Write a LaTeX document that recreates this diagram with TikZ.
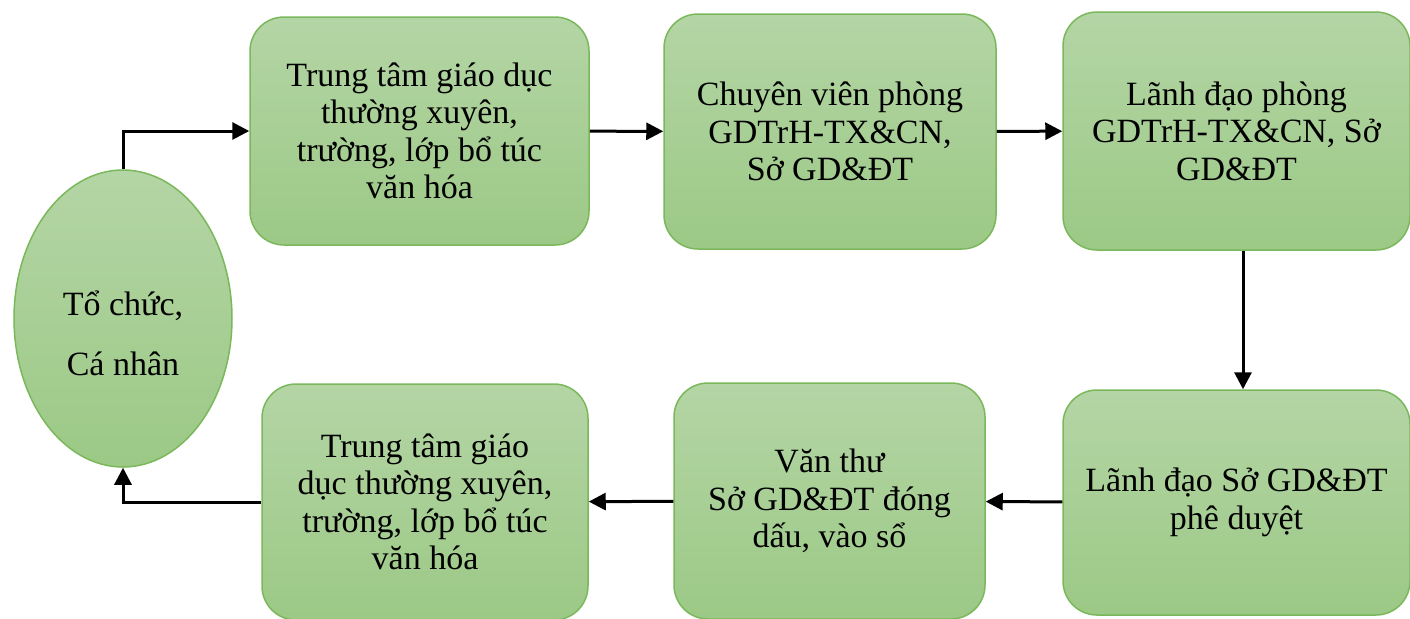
\documentclass[tikz,border=0pt]{standalone}
\usepackage{fontspec}
\setmainfont{Liberation Serif}
\usetikzlibrary{arrows.meta,shapes.geometric}
\definecolor{boxtop}{HTML}{B4D5A5}
\definecolor{boxbot}{HTML}{9CC986}
\definecolor{boxline}{HTML}{7AB85B}
\tikzset{
  stepbox/.style={draw=boxline,line width=0.75pt,rounded corners=17pt,
    top color=boxtop,bottom color=boxbot,align=center,
    font=\fontsize{17}{18.7}\selectfont,inner sep=0pt},
  link/.style={line width=1.5pt,-{Triangle[length=8.5pt,width=8.5pt]}}
}
\begin{document}
\begin{tikzpicture}[x=0.5pt,y=-0.5pt]
\useasboundingbox (0,0) rectangle (1410,618);
% nguoi nop ho so
\node[ellipse,draw=boxline,line width=0.75pt,top color=boxtop,bottom color=boxbot,
  minimum width=109pt,minimum height=148.5pt,inner sep=0pt,
  font=\fontsize{17}{30}\selectfont] (tc) at (123,318.5)
  {\raisebox{-7.5pt}[\height][\depth]{\begin{tabular}{@{}c@{}}Tổ chức,\\Cá nhân\end{tabular}}};
% hang tren
\node[stepbox,minimum width=169.5pt,minimum height=114pt] (tt1) at (419.5,131)
  {Trung tâm giáo dục\\thường xuyên,\\trường, lớp bổ túc\\văn hóa};
\node[stepbox,minimum width=166pt,minimum height=117.5pt] (cv) at (830,131.5)
  {Chuyên viên phòng\\GDTrH-TX\&CN,\\Sở GD\&ĐT};
\node[stepbox,minimum width=173.5pt,minimum height=119pt] (ldp) at (1236.5,131)
  {Lãnh đạo phòng\\GDTrH-TX\&CN, Sở\\GD\&ĐT};
% hang duoi
\node[stepbox,minimum width=173.5pt,minimum height=112.5pt] (lds) at (1236.5,502.5)
  {Lãnh đạo Sở GD\&ĐT\\phê duyệt};
\node[stepbox,minimum width=155.5pt,minimum height=118pt] (vt) at (829.5,501)
  {Văn thư\\Sở GD\&ĐT đóng\\dấu, vào sổ};
\node[stepbox,minimum width=163pt,minimum height=118pt] (tt2) at (425,502)
  {Trung tâm giáo\\dục thường xuyên,\\trường, lớp bổ túc\\văn hóa};
% cac buoc
\draw[link] (tc.north) |- (tt1.west);
\draw[link] (tt1) -- (cv);
\draw[link] (cv) -- (ldp);
\draw[link] (ldp.south -| 1243,0) -- (lds.north -| 1243,0);
\draw[link] (lds) -- (vt);
\draw[link] (vt) -- (tt2);
\draw[link] (tt2.west) -| (tc.south);
\end{tikzpicture}
\end{document}
